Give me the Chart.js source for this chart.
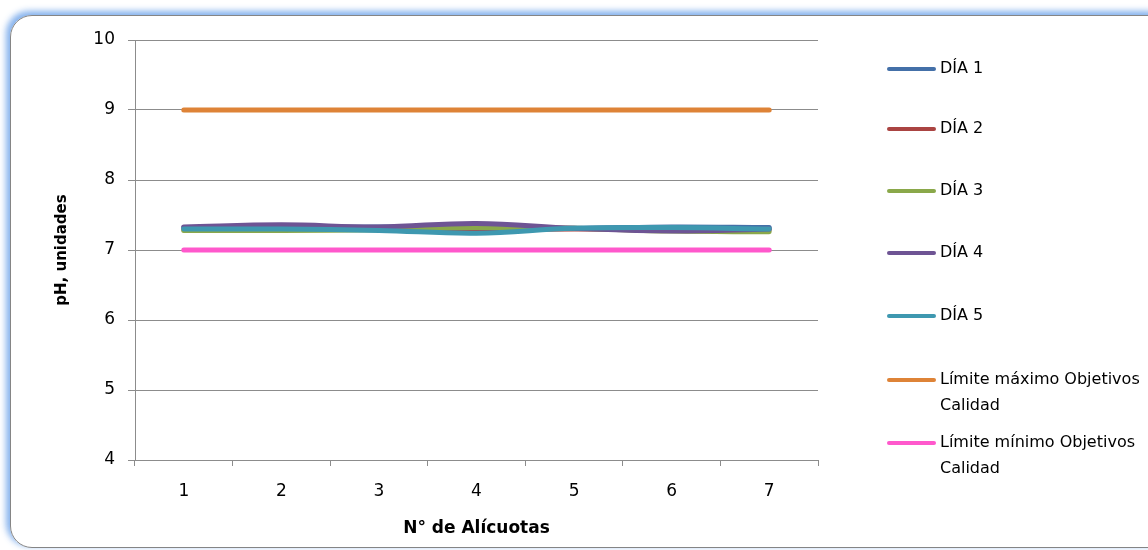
<!DOCTYPE html>
<html lang="es">
<head>
<meta charset="UTF-8">
<title>pH por alícuota</title>
<script src="https://cdn.jsdelivr.net/npm/chart.js@4.4.1/dist/chart.umd.min.js"></script>
<style>
  html, body { margin: 0; padding: 0; background: #fff; overflow: hidden; }
  #wrap { position: relative; width: 1148px; height: 550px; }
  #frame {
    position: absolute; left: 10px; top: 15px; width: 1160px; height: 531px;
    border: 1.5px solid #858585; border-radius: 22px;
    box-shadow: -3px -3px 6px 1px rgba(120, 170, 235, 0.9);
  }
  #chart { position: absolute; left: 0; top: 0; }
</style>
</head>
<body>
<div id="wrap">
  <div id="frame"></div>
  <canvas id="chart" width="1148" height="550"></canvas>
</div>
<script>
// N° de alícuotas
const alicuotas = ['1', '2', '3', '4', '5', '6', '7'];

// pH medido por día
const dia1 = [7.32, 7.32, 7.33, 7.33, 7.31, 7.33, 7.32];
const dia2 = [7.29, 7.30, 7.31, 7.29, 7.30, 7.29, 7.30];
const dia3 = [7.28, 7.28, 7.29, 7.32, 7.31, 7.27, 7.26];
const dia4 = [7.33, 7.36, 7.33, 7.38, 7.31, 7.27, 7.30];
const dia5 = [7.30, 7.30, 7.28, 7.24, 7.31, 7.32, 7.30];

// límites de los objetivos de calidad
const limiteMax = [9, 9, 9, 9, 9, 9, 9];
const limiteMin = [7, 7, 7, 7, 7, 7, 7];

const seriesNames = ['DÍA 1', 'DÍA 2', 'DÍA 3', 'DÍA 4', 'DÍA 5',
  'Límite máximo Objetivos Calidad', 'Límite mínimo Objetivos Calidad'];
const seriesColors = ['#4470a8', '#aa4442', '#8aa84a', '#6e5494', '#3e98b0', '#de8337', '#ff58cc'];
const seriesData = [dia1, dia2, dia3, dia4, dia5, limiteMax, limiteMin];
const drawOrder = [4, 5, 3, 2, 1, 6, 6];

const txtFont = 'DejaVu Sans';

// leyenda a la derecha, dibujada a mano para poder partir las líneas
const sideLegend = {
  id: 'sideLegend',
  afterDraw(chart) {
    const ctx = chart.ctx;
    const rows = [69, 129, 191, 253, 316, 380, 443];
    ctx.save();
    ctx.font = '16px "' + txtFont + '"';
    ctx.textBaseline = 'middle';
    ctx.textAlign = 'left';
    chart.data.datasets.forEach((ds, i) => {
      const y = rows[i];
      ctx.strokeStyle = ds.borderColor;
      ctx.lineWidth = 4;
      ctx.lineCap = 'round';
      ctx.beginPath();
      ctx.moveTo(889, y);
      ctx.lineTo(934, y);
      ctx.stroke();
      // ajuste de línea simple
      const words = ds.label.split(' ');
      const lines = [];
      let cur = '';
      words.forEach(w => {
        const test = cur ? cur + ' ' + w : w;
        if (ctx.measureText(test).width > 206 && cur) { lines.push(cur); cur = w; }
        else cur = test;
      });
      lines.push(cur);
      ctx.fillStyle = '#000';
      lines.forEach((ln, k) => ctx.fillText(ln, 940, y + k * 26));
    });
    ctx.restore();
  }
};

new Chart(document.getElementById('chart'), {
  type: 'line',
  data: {
    labels: alicuotas,
    datasets: seriesData.map((d, i) => ({
      label: seriesNames[i],
      data: d,
      borderColor: seriesColors[i],
      backgroundColor: seriesColors[i],
      borderWidth: 5,
      borderCapStyle: 'round',
      borderJoinStyle: 'round',
      pointRadius: 0,
      tension: i < 5 ? 0.4 : 0,
      order: drawOrder[i]
    }))
  },
  options: {
    responsive: false,
    animation: false,
    devicePixelRatio: 1,
    layout: { padding: { top: 40, right: 330, bottom: 0, left: 0 } },
    plugins: {
      legend: { display: false },
      tooltip: { enabled: false }
    },
    scales: {
      x: {
        offset: true,
        grid: { offset: true, drawOnChartArea: false, tickLength: 6, color: '#8c8c8c' },
        border: { color: '#8c8c8c' },
        ticks: { color: '#000', padding: 15, font: { family: txtFont, size: 17 } },
        title: {
          display: true, text: 'N° de Alícuotas', color: '#000',
          font: { family: txtFont, size: 17, weight: 'bold' },
          padding: { top: 0, bottom: 11 }
        },
        afterFit(scale) { scale.height = 90; }
      },
      y: {
        min: 4,
        max: 10,
        ticks: { stepSize: 1, color: '#000', padding: 13, font: { family: txtFont, size: 17 } },
        grid: { color: '#8c8c8c', tickLength: 7 },
        border: { color: '#8c8c8c' },
        title: {
          display: true, text: 'pH, unidades', color: '#000',
          font: { family: txtFont, size: 15, weight: 'bold' },
          padding: { top: 53, bottom: 0 }
        },
        afterFit(scale) { scale.width = 135; }
      }
    }
  },
  plugins: [sideLegend]
});
</script>
</body>
</html>
